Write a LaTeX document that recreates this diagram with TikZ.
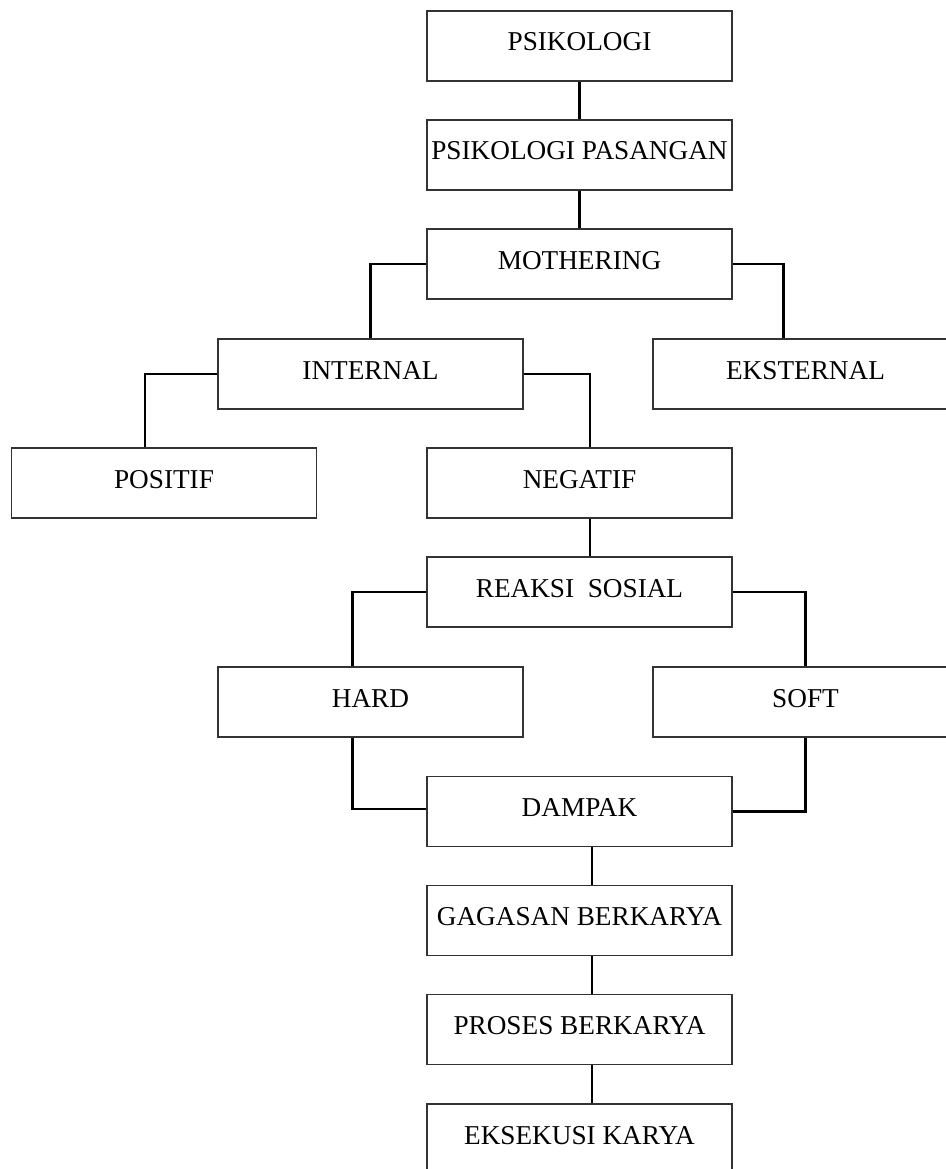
\documentclass[tikz,border=0pt]{standalone}
\usepackage{fontspec}
\setmainfont{Liberation Serif}
\usetikzlibrary{positioning,calc}

\begin{document}
\begin{tikzpicture}[x=0.02cm,y=-0.02cm,
        box/.style={draw=black!80,line width=0.8pt,minimum width=6.1cm,
                    minimum height=1.4cm,inner sep=0pt,text height=0.36cm,
                    text depth=0.16cm,font=\fontsize{15.5}{17}\selectfont},
        link/.style={draw,line width=1.3pt}]
      \useasboundingbox (0,0) rectangle (946,1169);
      \clip (0,0) rectangle (946,1169);
      \fill[white] (0,0) rectangle (946,1169);
      % top chain
      \node[box] (psi) at (579.5,46) {PSIKOLOGI};
      \node[box] (pas) at (579.5,155) {PSIKOLOGI PASANGAN};
      \node[box] (moth) at (579.5,264) {MOTHERING};
      % mothering branches
      \node[box] (int) at (370.5,374) {INTERNAL};
      \node[box] (eks) at (805.5,374) {EKSTERNAL};
      \node[box] (pos) at (164,483) {POSITIF};
      \node[box] (neg) at (579.5,483) {NEGATIF};
      % reaksi
      \node[box] (reak) at (579.5,592) {REAKSI\ \ SOSIAL};
      \node[box] (hard) at (370.5,702) {HARD};
      \node[box] (soft) at (805.5,702) {SOFT};
      % karya
      \node[box] (damp) at (579.5,811.5) {DAMPAK};
      \node[box] (gag) at (579.5,920.5) {GAGASAN BERKARYA};
      \node[box] (pros) at (579.5,1029.5) {PROSES BERKARYA};
      \node[box] (eksek) at (579.5,1139) {EKSEKUSI KARYA};
      % links
      \draw[link] (psi) -- (pas);
      \draw[link] (pas) -- (moth);
      \draw[link] (moth.west) -| (int.north);
      \draw[link] (moth.east) -| ([xshift=-0.44cm]eks.north);
      \draw[link] (int.west) -| ([xshift=-0.38cm]pos.north);
      \draw[link] (int.east) -| ([xshift=0.21cm]neg.north);
      \draw[link] ([xshift=0.21cm]neg.south) -- ([xshift=0.21cm]reak.north);
      \draw[link] (reak.west) -| ([xshift=-0.36cm]hard.north);
      \draw[link] (reak.east) -| (soft.north);
      \draw[link] ([xshift=-0.36cm]hard.south) |- ([yshift=0.05cm]damp.west);
      \draw[link] (soft.south) |- (damp.east);
      \draw[link] ([xshift=0.25cm]damp.south) -- ([xshift=0.25cm]gag.north);
      \draw[link] ([xshift=0.25cm]gag.south) -- ([xshift=0.25cm]pros.north);
      \draw[link] ([xshift=0.25cm]pros.south) -- ([xshift=0.25cm]eksek.north);
    \end{tikzpicture}
\end{document}
